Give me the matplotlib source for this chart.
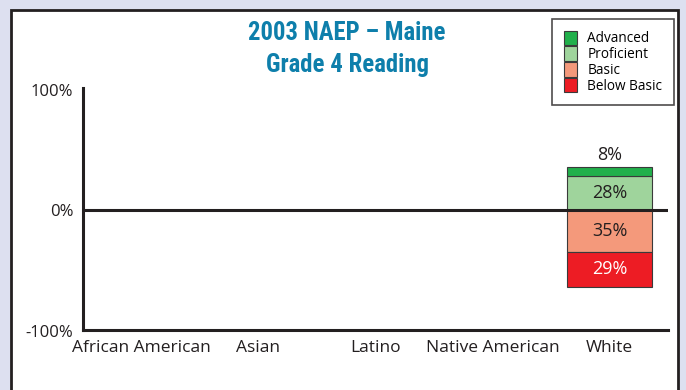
import numpy as np
import matplotlib.pyplot as plt
import matplotlib.transforms as mtransforms
from matplotlib.patches import Rectangle

categories = ["African American", "Asian", "Latino", "Native American", "White"]
levels = ["Advanced", "Proficient", "Basic", "Below Basic"]
advanced = [np.nan, np.nan, np.nan, np.nan, 8]
proficient = [np.nan, np.nan, np.nan, np.nan, 28]
basic = [np.nan, np.nan, np.nan, np.nan, 35]
below_basic = [np.nan, np.nan, np.nan, np.nan, 29]
yticks = [-100, 0, 100]
ytick_labels = ["-100%", "0%", "100%"]

colors = {"Advanced": "#21b04b", "Proficient": "#9fd49c",
          "Basic": "#f4997b", "Below Basic": "#ed1c24"}
INK = "#231f20"

TITLE_FONT = ["Liberation Sans Narrow", "Roboto Condensed", "Open Sans Condensed", "DejaVu Sans"]
plt.rcParams["font.family"] = ["Open Sans", "DejaVu Sans"]

W, H = 686, 390
fig = plt.figure(figsize=(W / 100, H / 100), dpi=100)
fig.patch.set_facecolor("#dde0f0")
fig.add_artist(Rectangle((11 / W, -0.1), (678 - 11) / W, 1.1 - 10 / H,
                         transform=fig.transFigure, facecolor="white",
                         edgecolor=INK, linewidth=2, zorder=0))

ax = fig.add_axes([83 / W, (H - 330) / H, (668 - 83) / W, 240 / H])
ax.set_facecolor("none")
x = np.arange(len(categories))
width = 0.73
edge = dict(edgecolor="#3a3a3a", linewidth=0.8)

adv = np.array(advanced, dtype=float)
pro = np.array(proficient, dtype=float)
bas = np.array(basic, dtype=float)
bb = np.array(below_basic, dtype=float)

b_pro = ax.bar(x, pro, width, bottom=0, color=colors["Proficient"], label="Proficient", **edge)
b_adv = ax.bar(x, adv, width, bottom=pro, color=colors["Advanced"], label="Advanced", **edge)
b_bas = ax.bar(x, -bas, width, bottom=0, color=colors["Basic"], label="Basic", **edge)
b_bb = ax.bar(x, -bb, width, bottom=-bas, color=colors["Below Basic"], label="Below Basic", **edge)


def fmt(vals):
    return ["" if np.isnan(v) else f"{v:.0f}%" for v in vals]


ax.bar_label(b_adv, labels=fmt(adv), padding=2, fontsize=13, color=INK)
ax.bar_label(b_pro, labels=fmt(pro), label_type="center", fontsize=13, color=INK)
ax.bar_label(b_bas, labels=fmt(bas), label_type="center", fontsize=13, color=INK)
ax.bar_label(b_bb, labels=fmt(bb), label_type="center", fontsize=13, color="white")

ax.axhline(0, color=INK, linewidth=2.2, zorder=3)
ax.set_xlim(-0.5, len(categories) - 0.5)
ax.set_ylim(-100, 100)
for s in ["top", "right"]:
    ax.spines[s].set_visible(False)
for s in ["left", "bottom"]:
    ax.spines[s].set_linewidth(2.2)
    ax.spines[s].set_color(INK)
ax.spines["left"].set_bounds(-100, 102)

ax.set_xticks(x)
ax.set_xticklabels(categories, fontsize=12.5, color=INK)
ax.set_yticks(yticks)
ax.set_yticklabels(ytick_labels, fontsize=12, color=INK)
ax.tick_params(length=0, pad=7)
ax.tick_params(axis="x", pad=7)
low = ax.get_yticklabels()[0]
low.set_va("center")
low.set_transform(low.get_transform() + mtransforms.ScaledTranslation(0, -3 / 100, fig.dpi_scale_trans))

t1 = fig.text(347 / W, 1 - 33 / H, "2003 NAEP \u2013 Maine", ha="center", va="center",
              fontsize=20, fontweight="bold", fontstretch="condensed",
              color="#0e7fab", family=TITLE_FONT)
t2 = fig.text(348 / W, 1 - 65 / H, "Grade 4 Reading", ha="center", va="center",
              fontsize=20, fontweight="bold", fontstretch="condensed",
              color="#0e7fab", family=TITLE_FONT)

# shrink the title so its first line is as wide as in the source
fig.canvas.draw()
w1 = t1.get_window_extent().width
size = 20 * 197 / w1
t1.set_fontsize(size)
t2.set_fontsize(size)

handles = [b_adv, b_pro, b_bas, b_bb]
leg = fig.legend(handles, levels, loc="upper right", bbox_to_anchor=(674 / W, 1 - 19 / H),
                 fontsize=9.8, frameon=True, fancybox=False, handlelength=0.95,
                 handleheight=1.25, handletextpad=0.8, labelspacing=0.0,
                 borderpad=0.85, borderaxespad=0)
leg.get_frame().set_edgecolor(INK)
leg.get_frame().set_linewidth(1.2)

fig.savefig("out.png", dpi=100, facecolor=fig.get_facecolor())
